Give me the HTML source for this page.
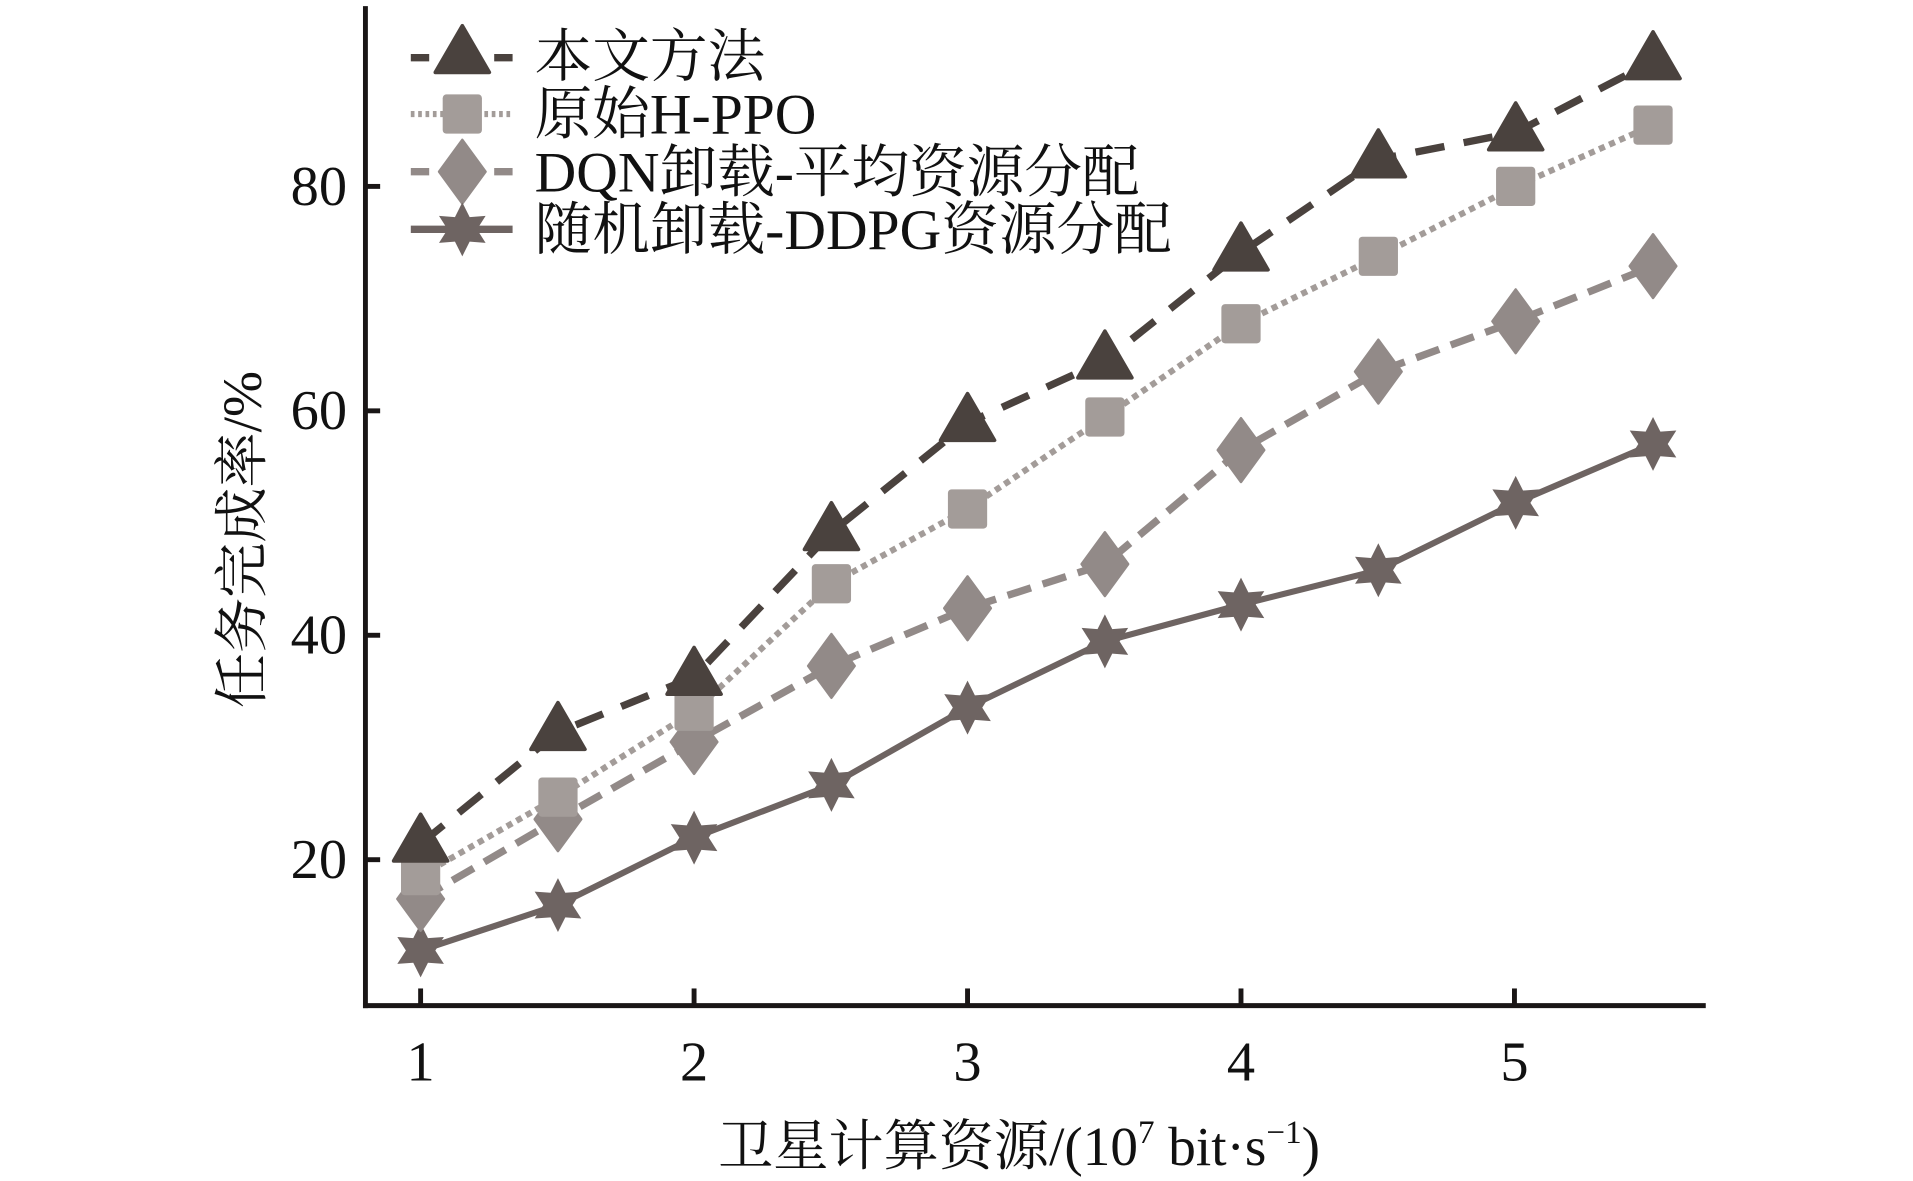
<!DOCTYPE html>
<html><head><meta charset="utf-8"><style>
html,body{margin:0;padding:0;background:#fff;}
svg{display:block;}
text{font-family:"Liberation Serif","Noto Serif CJK SC",serif;fill:#111;}
</style></head><body>
<svg width="1913" height="1181" viewBox="0 0 1560 963" preserveAspectRatio="none" xmlns="http://www.w3.org/2000/svg">
<defs>
<path id="tri" d="M0,-24 L22,14 L-22,14 Z" stroke-linejoin="round" stroke-width="3"/>
<rect id="sq" x="-16" y="-16" width="32" height="32" rx="3"/>
<path id="dia" d="M0,-26 L19,0 L0,26 L-19,0 Z" stroke-linejoin="round" stroke-width="2"/>
<path id="star" d="M0,-22 L6,-10 L19,-11 L12,0 L19,11 L6,10 L0,22 L-6,10 L-19,11 L-12,0 L-19,-11 L-6,-10 Z"/>
</defs>
<g stroke="#1a1616" stroke-width="4" fill="none">
<line x1="298" y1="5" x2="298" y2="822"/>
<line x1="296" y1="820" x2="1391" y2="820"/>
<line x1="343" y1="820" x2="343" y2="806"/>
<line x1="566" y1="820" x2="566" y2="806"/>
<line x1="789" y1="820" x2="789" y2="806"/>
<line x1="1012" y1="820" x2="1012" y2="806"/>
<line x1="1235" y1="820" x2="1235" y2="806"/>
<line x1="298" y1="701" x2="310" y2="701"/>
<line x1="298" y1="518" x2="310" y2="518"/>
<line x1="298" y1="335" x2="310" y2="335"/>
<line x1="298" y1="152" x2="310" y2="152"/>
</g>
<g font-size="46" text-anchor="end">
<text x="283" y="716">20</text><text x="283" y="533">40</text><text x="283" y="350">60</text><text x="283" y="167">80</text>
</g>
<g font-size="46" text-anchor="middle">
<text x="343" y="881">1</text><text x="566" y="881">2</text><text x="789" y="881">3</text><text x="1012" y="881">4</text><text x="1235" y="881">5</text>
</g>
<text x="831" y="950" font-size="45" text-anchor="middle">卫星计算资源/(10<tspan font-size="27" dy="-18">7</tspan><tspan dy="18"> bit·s</tspan><tspan font-size="27" dy="-18">−1</tspan><tspan dy="18">)</tspan></text>
<text transform="translate(213,440) rotate(-90)" font-size="45" text-anchor="middle">任务完成率/%</text>

<polyline fill="none" stroke="#6e6462" stroke-width="5" points="343,775 455,738 566,683 678,640 789,577 901,523 1012,493 1124,465 1236,410 1348,362"/>
<polyline fill="none" stroke="#928a88" stroke-width="6" stroke-dasharray="20,10" points="343,733 455,668 566,605 678,543 789,496 901,460 1012,367 1124,303 1236,262 1348,217"/>
<polyline fill="none" stroke="#a39c99" stroke-width="5" stroke-dasharray="5,4" points="343,714 455,650 566,580 678,476 789,415 901,340 1012,264 1124,209 1236,152 1348,102"/>
<polyline fill="none" stroke="#4a423e" stroke-width="6" stroke-dasharray="24,16" points="343,688 455,597 566,552 678,434 789,345 901,294 1012,206 1124,130 1236,108 1348,50"/>

<g fill="#6e6462"><use href="#star" x="343" y="775"/><use href="#star" x="455" y="738"/><use href="#star" x="566" y="683"/><use href="#star" x="678" y="640"/><use href="#star" x="789" y="577"/><use href="#star" x="901" y="523"/><use href="#star" x="1012" y="493"/><use href="#star" x="1124" y="465"/><use href="#star" x="1236" y="410"/><use href="#star" x="1348" y="362"/></g>
<g fill="#928a88" stroke="#928a88"><use href="#dia" x="343" y="733"/><use href="#dia" x="455" y="668"/><use href="#dia" x="566" y="605"/><use href="#dia" x="678" y="543"/><use href="#dia" x="789" y="496"/><use href="#dia" x="901" y="460"/><use href="#dia" x="1012" y="367"/><use href="#dia" x="1124" y="303"/><use href="#dia" x="1236" y="262"/><use href="#dia" x="1348" y="217"/></g>
<g fill="#a39c99"><use href="#sq" x="343" y="714"/><use href="#sq" x="455" y="650"/><use href="#sq" x="566" y="580"/><use href="#sq" x="678" y="476"/><use href="#sq" x="789" y="415"/><use href="#sq" x="901" y="340"/><use href="#sq" x="1012" y="264"/><use href="#sq" x="1124" y="209"/><use href="#sq" x="1236" y="152"/><use href="#sq" x="1348" y="102"/></g>
<g fill="#4a423e" stroke="#4a423e"><use href="#tri" x="343" y="688"/><use href="#tri" x="455" y="597"/><use href="#tri" x="566" y="552"/><use href="#tri" x="678" y="434"/><use href="#tri" x="789" y="345"/><use href="#tri" x="901" y="294"/><use href="#tri" x="1012" y="206"/><use href="#tri" x="1124" y="130"/><use href="#tri" x="1236" y="108"/><use href="#tri" x="1348" y="50"/></g>

<line x1="335" y1="47" x2="350" y2="47" stroke="#4a423e" stroke-width="6"/>
<line x1="403" y1="47" x2="418" y2="47" stroke="#4a423e" stroke-width="6"/>
<use href="#tri" x="377" y="45" fill="#4a423e" stroke="#4a423e"/>
<line x1="335" y1="93" x2="418" y2="93" stroke="#a39c99" stroke-width="5" stroke-dasharray="3,3"/>
<use href="#sq" x="377" y="93" fill="#a39c99"/>
<line x1="335" y1="140" x2="350" y2="140" stroke="#928a88" stroke-width="6"/>
<line x1="403" y1="140" x2="418" y2="140" stroke="#928a88" stroke-width="6"/>
<use href="#dia" x="377" y="140" fill="#928a88" stroke="#928a88"/>
<line x1="335" y1="187" x2="418" y2="187" stroke="#6e6462" stroke-width="6"/>
<use href="#star" x="377" y="187" fill="#6e6462"/>
<g font-size="47">
<text x="436" y="62">本文方法</text>
<text x="436" y="109">原始H-PPO</text>
<text x="436" y="156">DQN卸载-平均资源分配</text>
<text x="436" y="203">随机卸载-DDPG资源分配</text>
</g>
</svg>
</body></html>
